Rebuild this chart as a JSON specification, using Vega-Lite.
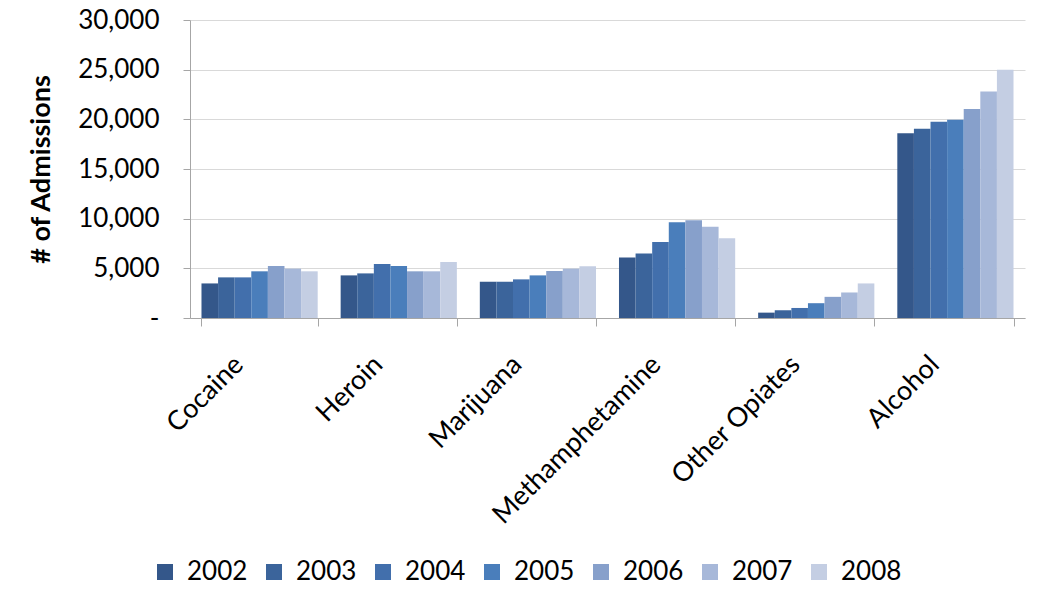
{
  "$schema": "https://vega.github.io/schema/vega-lite/v6.json",
  "width": 835,
  "height": 298,
  "autosize": {"type": "none"},
  "padding": {"left": 190, "top": 20, "right": 25, "bottom": 291},
  "background": "white",
  "data": {"values": [
    {"drug": "Cocaine", "year": "2002", "value": 3480},
    {"drug": "Cocaine", "year": "2003", "value": 4090},
    {"drug": "Cocaine", "year": "2004", "value": 4090},
    {"drug": "Cocaine", "year": "2005", "value": 4700},
    {"drug": "Cocaine", "year": "2006", "value": 5240},
    {"drug": "Cocaine", "year": "2007", "value": 4970},
    {"drug": "Cocaine", "year": "2008", "value": 4700},
    {"drug": "Heroin", "year": "2002", "value": 4290},
    {"drug": "Heroin", "year": "2003", "value": 4490},
    {"drug": "Heroin", "year": "2004", "value": 5440},
    {"drug": "Heroin", "year": "2005", "value": 5240},
    {"drug": "Heroin", "year": "2006", "value": 4700},
    {"drug": "Heroin", "year": "2007", "value": 4700},
    {"drug": "Heroin", "year": "2008", "value": 5640},
    {"drug": "Marijuana", "year": "2002", "value": 3650},
    {"drug": "Marijuana", "year": "2003", "value": 3650},
    {"drug": "Marijuana", "year": "2004", "value": 3890},
    {"drug": "Marijuana", "year": "2005", "value": 4290},
    {"drug": "Marijuana", "year": "2006", "value": 4730},
    {"drug": "Marijuana", "year": "2007", "value": 4970},
    {"drug": "Marijuana", "year": "2008", "value": 5200},
    {"drug": "Methamphetamine", "year": "2002", "value": 6080},
    {"drug": "Methamphetamine", "year": "2003", "value": 6490},
    {"drug": "Methamphetamine", "year": "2004", "value": 7640},
    {"drug": "Methamphetamine", "year": "2005", "value": 9630},
    {"drug": "Methamphetamine", "year": "2006", "value": 9830},
    {"drug": "Methamphetamine", "year": "2007", "value": 9190},
    {"drug": "Methamphetamine", "year": "2008", "value": 8040},
    {"drug": "Other Opiates", "year": "2002", "value": 540},
    {"drug": "Other Opiates", "year": "2003", "value": 780},
    {"drug": "Other Opiates", "year": "2004", "value": 1010},
    {"drug": "Other Opiates", "year": "2005", "value": 1490},
    {"drug": "Other Opiates", "year": "2006", "value": 2130},
    {"drug": "Other Opiates", "year": "2007", "value": 2570},
    {"drug": "Other Opiates", "year": "2008", "value": 3480},
    {"drug": "Alcohol", "year": "2002", "value": 18600},
    {"drug": "Alcohol", "year": "2003", "value": 19050},
    {"drug": "Alcohol", "year": "2004", "value": 19760},
    {"drug": "Alcohol", "year": "2005", "value": 19970},
    {"drug": "Alcohol", "year": "2006", "value": 21050},
    {"drug": "Alcohol", "year": "2007", "value": 22800},
    {"drug": "Alcohol", "year": "2008", "value": 25000}
  ]},
  "mark": {"type": "bar"},
  "encoding": {
    "x": {
      "field": "drug", "type": "nominal",
      "sort": ["Cocaine", "Heroin", "Marijuana", "Methamphetamine", "Other Opiates", "Alcohol"],
      "scale": {"paddingInner": 0.165, "paddingOuter": 0.0825},
      "axis": {
        "title": null, "labelAngle": -45, "labelFontSize": 27, "labelColor": "#000000",
        "labelFont": "Lato", "tickBand": "extent", "tickSize": 8, "tickColor": "#a6a6a6",
        "domainColor": "#a6a6a6", "labelPadding": 25, "labelLimit": 400,
        "labelOffset": -30
      }
    },
    "xOffset": {"field": "year", "type": "nominal", "scale": {"paddingInner": 0}},
    "y": {
      "field": "value", "type": "quantitative",
      "scale": {"domain": [0, 30000], "nice": false},
      "axis": {
        "title": "# of Admissions", "titleFontSize": 27, "titleFont": "Lato", "titleFontWeight": "bold",
        "titleColor": "#000000", "titlePadding": 22,
        "values": [0, 5000, 10000, 15000, 20000, 25000, 30000],
        "labelExpr": "datum.value === 0 ? '-' : format(datum.value, ',')",
        "labelFontSize": 26, "labelFont": "Lato", "labelColor": "#000000", "labelPadding": 24,
        "tickSize": 7, "tickColor": "#a6a6a6", "domainColor": "#a6a6a6",
        "gridColor": "#d9d9d9", "grid": true
      }
    },
    "color": {
      "field": "year", "type": "nominal",
      "scale": {
        "domain": ["2002", "2003", "2004", "2005", "2006", "2007", "2008"],
        "range": ["#34578A", "#3B649B", "#426FAC", "#4A7EBB", "#87A0CB", "#A7B8D9", "#C4CEE3"]
      },
      "legend": {
        "title": null, "orient": "none", "direction": "horizontal", "columns": 7,
        "legendX": -38, "legendY": 539,
        "symbolType": "square", "symbolSize": 256, "symbolStrokeWidth": 0,
        "labelFontSize": 26, "labelFont": "Lato", "labelColor": "#000000",
        "labelOffset": 9, "columnPadding": 13
      }
    }
  },
  "config": {"view": {"stroke": null}}
}
